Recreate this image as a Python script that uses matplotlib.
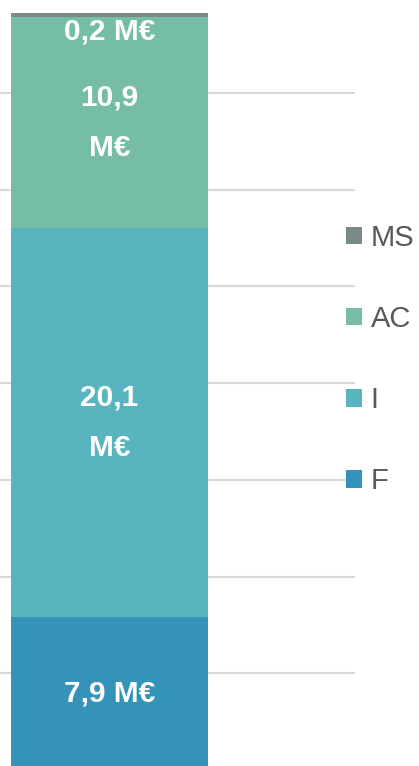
import matplotlib.pyplot as plt
import numpy as np

# stacked single bar, values in M€ (bottom to top)
segments = ["F", "I", "AC", "MS"]
values = [7.9, 20.1, 10.9, 0.2]
labels = ["7,9 M€", "20,1\nM€", "10,9\nM€", "0,2 M€"]
colors = ["#3592b9", "#58b5bf", "#75bda7", "#788a8a"]

FONT = ["Liberation Sans", "DejaVu Sans"]
plt.rcParams["font.family"] = FONT

fig = plt.figure(figsize=(4.19, 7.66), dpi=100)
# axes extends slightly past the bottom/top edge, like the cropped original
ax = fig.add_axes([0, -4 / 766, 355 / 419, 774 / 766])

bottoms = np.concatenate([[0], np.cumsum(values)[:-1]])
bars = []
for seg, val, bot, col in zip(segments, values, bottoms, colors):
    b = ax.bar(0, val, bottom=bot, width=0.8, color=col, label=seg,
               edgecolor="none", zorder=2)
    bars.append(b)

for i, (val, bot, lab) in enumerate(zip(values, bottoms, labels)):
    if segments[i] == "MS":
        ax.annotate(lab, (0, bot + val), xytext=(0, -13), textcoords="offset points",
                    ha="center", va="center", color="white", fontsize=21.5,
                    fontweight="bold", zorder=3)
    else:
        ax.text(0, bot + val / 2, lab, ha="center", va="center", color="white",
                fontsize=21.5, fontweight="bold", linespacing=2.0, zorder=3)

ax.set_xlim(-0.4447, 0.9969)
ax.set_ylim(0, 40)
ax.set_yticks(np.arange(0, 41, 5))
ax.yaxis.grid(True, color="#d9d9d9", linewidth=1.5, zorder=0)
ax.set_axisbelow(True)
ax.set_xticks([])
ax.tick_params(left=False, labelleft=False)
for s in ax.spines.values():
    s.set_visible(False)

handles = [bars[i] for i in range(3, -1, -1)]
fig.legend(handles, [segments[i] for i in range(3, -1, -1)],
           loc="center left", bbox_to_anchor=(346 / 419, 1 - 359.5 / 766),
           frameon=False, fontsize=21, labelcolor="#595959",
           handlelength=0.55, handleheight=0.55, handletextpad=0.3,
           labelspacing=1.82, borderpad=0, borderaxespad=0)

fig.savefig("out.png", dpi=100)
